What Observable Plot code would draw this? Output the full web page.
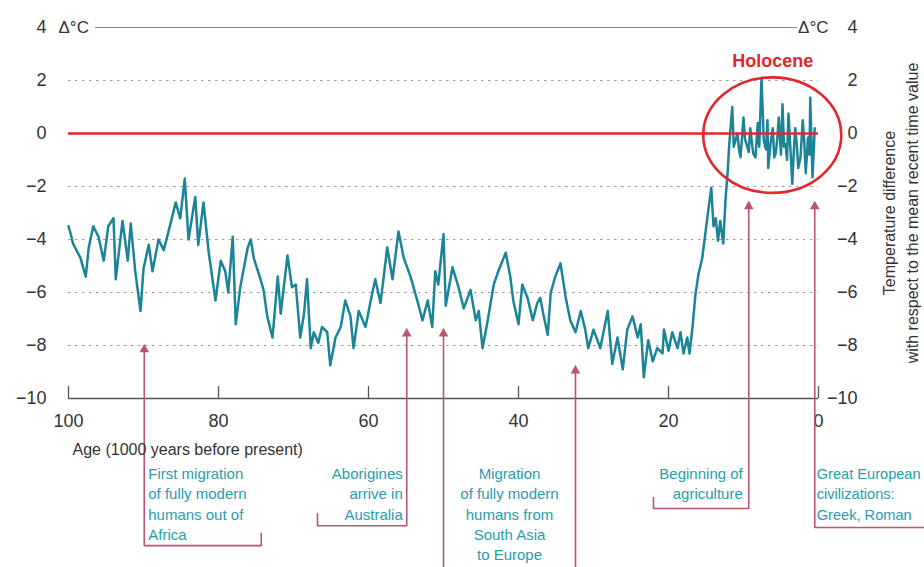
<!DOCTYPE html>
<html>
<head>
<meta charset="utf-8">
<script src="https://cdn.jsdelivr.net/npm/d3@7"></script>
<script src="https://cdn.jsdelivr.net/npm/@observablehq/plot@0.6"></script>
<style>
  html, body { margin: 0; padding: 0; background: #fff; }
  #chart svg { display: block; overflow: visible; }
</style>
</head>
<body>
<div id="chart"></div>
<script>
// ---------- DATA ----------
const ageKa = [
  100.0, 99.7, 99.4, 98.4, 97.7, 97.3, 96.7, 96.0, 95.3, 94.7,
  94.0, 93.7, 92.8, 92.1, 91.7, 91.1, 90.4, 90.0, 89.3, 88.8,
  88.0, 87.3, 86.4, 85.7, 85.1, 84.5, 84.0, 83.1, 82.7, 82.0,
  81.3, 80.4, 79.7, 79.1, 78.7, 78.1, 77.7, 77.1, 76.1, 75.7,
  75.3, 74.4, 74.0, 73.5, 72.8, 72.1, 71.7, 70.8, 70.2, 69.7,
  69.1, 68.6, 68.2, 67.7, 67.3, 66.7, 66.2, 65.5, 65.1, 64.4,
  63.7, 63.1, 62.4, 62.0, 61.3, 60.4, 59.7, 59.1, 58.4, 57.5,
  56.8, 56.0, 55.3, 54.4, 53.5, 52.8, 52.1, 51.5, 51.1, 50.7,
  50.0, 49.7, 48.8, 48.0, 47.3, 46.4, 45.7, 45.3, 44.8, 44.1,
  43.3, 42.7, 41.7, 41.1, 40.7, 40.0, 39.5, 38.8, 38.1, 37.5,
  37.1, 36.7, 36.1, 35.7, 35.1, 34.4, 33.7, 33.1, 32.4, 31.7,
  31.1, 30.7, 30.0, 29.1, 28.1, 27.5, 26.8, 26.1, 25.5, 24.8,
  24.1, 23.7, 23.3, 22.7, 22.1, 21.5, 20.8, 20.6, 20.0, 19.5,
  18.8, 18.4, 18.0, 17.5, 17.2, 16.8, 16.4, 16.0, 15.5, 15.1,
  14.7, 14.3, 14.0, 13.7, 13.4, 13.1, 12.7, 12.4, 12.1, 11.9,
  11.5, 11.3, 11.1, 10.8, 10.6, 10.4, 10.0, 9.8, 9.5, 9.3,
  9.1, 8.9, 8.7, 8.4, 8.1, 7.9, 7.6, 7.3, 7.0, 6.8,
  6.7, 6.4, 6.1, 5.9, 5.7, 5.5, 5.3, 5.0, 4.8, 4.6,
  4.4, 4.2, 4.0, 3.8, 3.5, 3.3, 3.1, 2.9, 2.7, 2.4,
  2.1, 1.9, 1.7, 1.4, 1.2, 1.1, 0.8, 0.5
];
const tempC = [
  -3.5, -3.8, -4.15, -4.7, -5.4, -4.3, -3.5, -3.9, -4.8, -3.5,
  -3.2, -5.5, -3.3, -4.8, -3.4, -5.2, -6.7, -5.1, -4.2, -5.2,
  -4.0, -4.4, -3.4, -2.6, -3.2, -1.7, -4.0, -2.4, -4.2, -2.6,
  -4.5, -6.3, -4.8, -5.2, -6.0, -3.9, -7.2, -5.8, -4.3, -4.0,
  -4.7, -5.5, -5.9, -6.9, -7.7, -5.4, -6.8, -4.6, -5.8, -5.7,
  -7.7, -6.8, -5.5, -8.1, -7.5, -7.9, -7.3, -7.5, -8.75, -7.7,
  -7.3, -6.3, -6.9, -8.1, -6.7, -7.3, -6.3, -5.5, -6.4, -4.3,
  -5.5, -3.7, -4.7, -5.4, -6.3, -7.05, -6.3, -7.3, -5.2, -5.7,
  -3.8, -6.5, -5.05, -5.8, -6.6, -5.9, -7.05, -6.7, -8.1, -7.05,
  -5.7, -5.2, -4.5, -5.4, -6.3, -7.2, -5.7, -6.2, -7.05, -6.4,
  -6.2, -6.8, -7.6, -6.0, -5.4, -4.9, -6.2, -7.05, -7.5, -6.7,
  -7.4, -8.1, -7.4, -8.1, -6.7, -8.7, -7.7, -8.9, -7.4, -6.9,
  -7.7, -7.2, -9.2, -7.8, -8.6, -8.1, -8.3, -7.4, -8.2, -7.5,
  -8.1, -7.5, -8.3, -7.7, -8.3, -7.3, -6.05, -5.3, -4.7, -3.8,
  -2.9, -2.05, -3.5, -3.2, -4.05, -3.3, -4.15, -2.5, -1.4, -0.4,
  1.0, -0.5, -0.3, 0.0, -0.6, -0.9, 0.6, -0.2, -0.5, -0.7,
  0.2, -0.3, -0.75, -0.9, 0.4, -0.5, 2.1, -0.25, -0.6, 0.5,
  -1.3, -0.4, 0.2, -0.9, -0.75, -0.2, 0.6, -0.8, 1.1, -0.5,
  -0.4, -1.0, 0.75, -0.3, -1.9, -0.7, 0.2, -0.4, -1.3, -0.9,
  0.5, -0.3, -1.5, -0.15, -0.8, 1.35, -1.65, 0.2
];
const xTicks = [100, 80, 60, 40, 20, 0];
const yTicks = [4, 2, 0, -2, -4, -6, -8, -10];
const gridTemps = [2, -2, -4, -6, -8];
const unitLabel = "Δ°C";
const xTitle = "Age (1000 years before present)";
const yTitle = "Temperature difference\nwith respect to the mean recent time value";
const holoceneLabel = "Holocene";
const eventLabels = [
  "First migration\nof fully modern\nhumans out of\nAfrica",
  "Aborigines\narrive in\nAustralia",
  "Migration\nof fully modern\nhumans from\nSouth Asia\nto Europe",
  "Beginning of\nagriculture",
  "Great European\ncivilizations:\nGreek, Roman"
];
// arrow positions (ka) and the temperature their heads point to
const arrowKa   = [89.9, 54.9, 50.0, 32.4, 9.3, 0.5];
const arrowTipC = [-8.0, -7.4, -7.4, -8.8, -2.6, -2.6];

// ---------- LAYOUT (annotation geometry, not data) ----------
const n = Math.min(ageKa.length, tempC.length);
const series = d3.range(n).map(i => ({ka: ageKa[i], t: tempC[i]}));
const fmt = d => d < 0 ? "\u2212" + Math.abs(d) : String(d);

// bracket shapes hanging below the axis, per arrow (y in the chart's own units)
const brackets = [
  {arrow: 0, bottom: -15.55, endKa: 74.3, endTop: -15.1},
  {arrow: 1, bottom: -14.8,  endKa: 66.8, endTop: -14.35},
  {arrow: 2, bottom: -16.8,  endKa: null},
  {arrow: 3, bottom: -16.8,  endKa: null},
  {arrow: 4, bottom: -14.15, endKa: 22.0, endTop: -13.74},
  {arrow: 5, bottom: -14.87, endKa: -14.2, endTop: -14.87}
];
const bracketPts = [];
brackets.forEach((b, g) => {
  const a = arrowKa[b.arrow];
  if (b.endKa !== null) {
    bracketPts.push({g, ka: b.endKa, t: b.endTop});
    bracketPts.push({g, ka: b.endKa, t: b.bottom});
  }
  bracketPts.push({g, ka: a, t: b.bottom});
  bracketPts.push({g, ka: a, t: arrowTipC[b.arrow]});
});
const heads = arrowKa.map((ka, i) => ({ka, t: arrowTipC[i]}));
const labelPos = [
  {ka: arrowKa[0], anchor: "start",  dx: 4,  size: 15},
  {ka: arrowKa[1], anchor: "end",    dx: -4, size: 15},
  {ka: (arrowKa[2] + arrowKa[3]) / 2, anchor: "middle", dx: 0, size: 15},
  {ka: arrowKa[4], anchor: "end",    dx: -6, size: 15},
  {ka: arrowKa[5], anchor: "start",  dx: 2,  size: 14.6}
].map((p, i) => ({...p, text: eventLabels[i]}));

// Holocene ellipse bounding box (ka, °C)
const holo = {ka0: 15.3, ka1: -3.1, t0: 2.1, t1: -2.26};

const teal = "#1b8497";
const labelTeal = "#2a9cab";
const arrowCol = "#b8566f";
const red = "#e3262b";
const ink = "#333";
const font = "'Liberation Sans', Arial, sans-serif";

function holoceneEllipse(index, scales) {
  const x0 = scales.x(holo.ka0), x1 = scales.x(holo.ka1);
  const y0 = scales.y(holo.t0), y1 = scales.y(holo.t1);
  const el = document.createElementNS("http://www.w3.org/2000/svg", "ellipse");
  el.setAttribute("cx", (x0 + x1) / 2);
  el.setAttribute("cy", (y0 + y1) / 2);
  el.setAttribute("rx", Math.abs(x1 - x0) / 2);
  el.setAttribute("ry", Math.abs(y1 - y0) / 2);
  el.setAttribute("fill", "none");
  el.setAttribute("stroke", red);
  el.setAttribute("stroke-width", 2.6);
  return el;
}

const eventText = d => Plot.text([d], {
  x: "ka", frameAnchor: "bottom", dy: 66, dx: d.dx, lineAnchor: "top", text: "text",
  textAnchor: d.anchor, fill: labelTeal, fontSize: d.size, lineHeight: 20.3 / d.size
});

const chart = Plot.plot({
  width: 924,
  height: 567,
  marginTop: 27,
  marginRight: 106,
  marginBottom: 169,
  marginLeft: 68,
  style: {fontFamily: font, fontSize: "18px", color: ink, background: "#fff", overflow: "visible"},
  x: {domain: [100, 0], ticks: xTicks, tickSize: 0, tickPadding: 16, tickFormat: d => String(d), label: null},
  y: {domain: [-10, 4], ticks: yTicks, tickSize: 0, tickPadding: 22, tickFormat: fmt, label: null},
  marks: [
    Plot.ruleY(gridTemps, {stroke: "#9c9c9c", strokeWidth: 1.2, strokeDasharray: "2.5,4.5"}),
    Plot.ruleY([4], {stroke: "#8a8a8a", strokeWidth: 1.2, insetLeft: 27, insetRight: 21}),
    Plot.ruleY([-10], {stroke: "#555", strokeWidth: 1.5}),
    Plot.ruleX(xTicks, {y1: -10, y2: -9.55, stroke: "#555", strokeWidth: 1.3}),
    Plot.line(bracketPts, {x: "ka", y: "t", z: "g", stroke: arrowCol, strokeWidth: 1.6}),
    Plot.dot(heads, {x: "ka", y: "t", symbol: "triangle", r: 3.6, fill: arrowCol, stroke: "none", dy: 4}),
    Plot.line(series, {x: "ka", y: "t", stroke: teal, strokeWidth: 2.5, strokeLinejoin: "round"}),
    Plot.ruleY([0], {stroke: red, strokeWidth: 2.4}),
    holoceneEllipse,
    Plot.text([holoceneLabel], {x: (holo.ka0 + holo.ka1) / 2, y: holo.t0, dy: -17, text: d => d,
      fill: red, fontWeight: "bold", fontSize: 18}),
    Plot.text([unitLabel], {frameAnchor: "top-left", dx: -10, textAnchor: "start", lineAnchor: "middle", text: d => d, fill: ink, fontSize: 17}),
    Plot.text([unitLabel], {frameAnchor: "top-right", dx: 10, textAnchor: "end", lineAnchor: "middle", text: d => d, fill: ink, fontSize: 17}),
    Plot.text(yTicks, {y: d => d, text: fmt, frameAnchor: "right", textAnchor: "end", dx: 39, fill: ink, fontSize: 18}),
    Plot.text([yTitle], {frameAnchor: "right", dx: 81, rotate: -90, textAnchor: "middle", lineAnchor: "middle",
      text: d => d, fill: ink, fontSize: 16, lineHeight: 1.4}),
    Plot.text([xTitle], {frameAnchor: "bottom-left", dx: 4, dy: 51, textAnchor: "start", lineAnchor: "middle", text: d => d, fill: ink, fontSize: 16}),
    ...labelPos.map(eventText)
  ]
});
document.getElementById("chart").appendChild(chart);
</script>
</body>
</html>
